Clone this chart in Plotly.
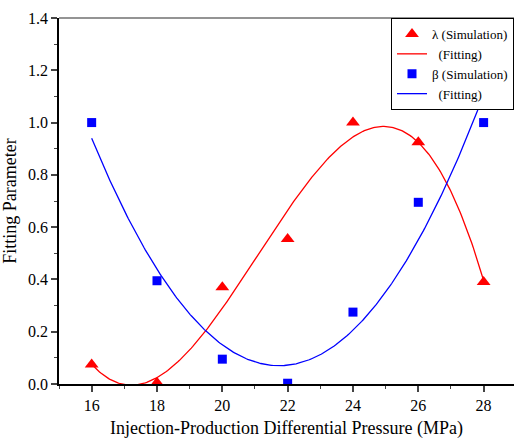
import numpy as np
import plotly.graph_objects as go

pressure = [16, 18, 20, 22, 24, 26, 28]
lambda_sim = [0.075, 0.005, 0.37, 0.555, 1.0, 0.925, 0.39]
beta_sim = [1.0, 0.395, 0.095, 0.003, 0.275, 0.695, 1.0]

xs = np.linspace(min(pressure), max(pressure), 300)
lam_fit = np.polyval(np.polyfit(pressure, lambda_sim, 3), xs)
beta_fit = np.polyval(np.polyfit(pressure, beta_sim, 2), xs)

FONT = "Liberation Serif, Times New Roman, serif"
fig = go.Figure()
fig.add_trace(go.Scatter(x=pressure, y=lambda_sim, mode="markers", name="λ (Simulation)",
                         marker=dict(symbol="triangle-up", size=12, color="#FF0000")))
fig.add_trace(go.Scatter(x=xs, y=lam_fit, mode="lines", name="  (Fitting)",
                         line=dict(color="#FF0000", width=1.3)))
fig.add_trace(go.Scatter(x=pressure, y=beta_sim, mode="markers", name="β (Simulation)",
                         marker=dict(symbol="square", size=9, color="#0000FF")))
fig.add_trace(go.Scatter(x=xs, y=beta_fit, mode="lines", name="  (Fitting)",
                         line=dict(color="#0000FF", width=1.3)))

fig.update_layout(
    width=514, height=439,
    margin=dict(l=59, r=0, t=18, b=55),
    paper_bgcolor="white", plot_bgcolor="white",
    font=dict(family=FONT, size=15, color="black"),
    showlegend=True,
    legend=dict(x=1.0, xanchor="right", y=1.0, yanchor="top",
                bgcolor="white", bordercolor="black", borderwidth=1,
                font=dict(family=FONT, size=13, color="black"), itemwidth=30,
                tracegroupgap=0),
    xaxis=dict(range=[15, 28.93], showgrid=False, zeroline=False,
               showline=True, linecolor="black", linewidth=1.5,
               tickfont=dict(family=FONT, size=16, color="black"),
               ticks="outside", tickvals=[16, 18, 20, 22, 24, 26, 28], ticklen=6, tickwidth=1.5,
               minor=dict(ticks="outside", tickvals=[15, 17, 19, 21, 23, 25, 27], ticklen=3, tickwidth=1.2),
               title=dict(text="Injection-Production Differential Pressure (MPa)",
                          font=dict(family=FONT, size=18, color="black"), standoff=8)),
    yaxis=dict(range=[0, 1.4], showgrid=False, zeroline=False,
               showline=True, linecolor="black", linewidth=1.5,
               tickfont=dict(family=FONT, size=16, color="black"),
               ticks="outside", dtick=0.2, tick0=0, ticklen=6, tickwidth=1.5, tickformat=".1f",
               minor=dict(ticks="outside", dtick=0.1, ticklen=3, tickwidth=1.2),
               title=dict(text="Fitting Parameter", font=dict(family=FONT, size=18, color="black"), standoff=8)),
    shapes=[dict(type="line", xref="paper", yref="paper", x0=0, x1=1, y0=1, y1=1,
                 line=dict(color="#707070", width=1.5))],
)

fig.write_html("out.html")
